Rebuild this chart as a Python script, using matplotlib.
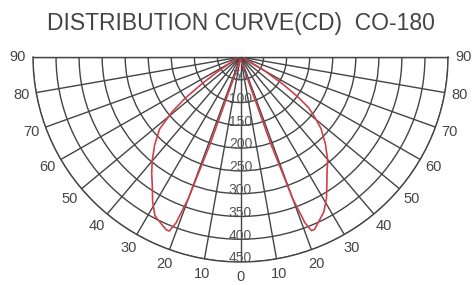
import numpy as np
import matplotlib
matplotlib.use("Agg")
import matplotlib.pyplot as plt

title = "DISTRIBUTION CURVE(CD)  CO-180"
r_ticks = [50, 100, 150, 200, 250, 300, 350, 400, 450]
r_tick_labels = ["50", "100", "150", "200", "250", "300", "350", "400", "450"]
theta_ticks_deg = list(range(-90, 91, 10))
theta_tick_labels = [str(abs(t)) for t in theta_ticks_deg]

# candela curve, angle (deg, negative = left, 0 = straight down) vs intensity (cd)
angles_deg = [-90, -80, -70, -60, -57, -55, -53, -51, -48, -44, -40, -37, -34, -31,
              -28, -25, -23, -22, -21, -20, -19, -18, -15, -10, -5, 0,
              5, 10, 15, 18, 19, 20, 21, 22, 23, 25, 28, 31, 34, 37, 40,
              44, 48, 51, 53, 55, 57, 60, 70, 80, 90]
intensity_cd = [0, 3, 8, 25, 60, 100, 150, 190, 236, 268, 298, 320, 342, 370,
                395, 405, 412, 412, 390, 330, 200, 60, 20, 10, 8, 5,
                8, 10, 20, 60, 200, 330, 390, 411, 411, 400, 385, 362, 335, 312, 294,
                265, 235, 205, 185, 150, 110, 60, 8, 3, 0]

plt.rcParams['font.family'] = ['Liberation Sans', 'DejaVu Sans']

W, H = 475.0, 285.0
cx, cy = 240.5, 57.0       # circle centre in pixels (from top-left)
Rx, Ry = 207.5, 205.0      # horizontal / vertical radius in pixels
# polar wedge bbox is forced square by matplotlib; half circle sits in its middle
box_w, box_h = 2 * Rx, 2 * Ry
left = (cx - Rx) / W
top_px = cy - 0.25 * box_h
bottom = (H - (top_px + box_h)) / H

fig = plt.figure(figsize=(4.75, 2.85), dpi=100)
ax = fig.add_axes([left, bottom, box_w / W, box_h / H], projection='polar')
ax.set_thetamin(180)
ax.set_thetamax(360)
ax.set_ylim(0, 450)
ax.set_aspect('auto')

def to_theta(a):
    return np.deg2rad(270 + np.asarray(a, dtype=float))

grid_color = '#444444'
ax.set_xticks(to_theta(theta_ticks_deg))
ax.set_xticklabels(theta_tick_labels, fontsize=10.5, color='#444444')
ax.tick_params(axis='x', size=0, pad=4)
ax.set_yticks(r_ticks)
ax.set_yticklabels([])
ax.grid(True, color=grid_color, linewidth=1.0)
for s in ax.spines.values():
    s.set_color(grid_color)
    s.set_linewidth(1.0)

for r, lab in zip(r_ticks, r_tick_labels):
    ax.text(to_theta(0), r - 8, lab, ha='center', va='center', fontsize=10, color='#555555')

ax.plot(to_theta(angles_deg), intensity_cd, color='#d0404c', linewidth=1.2)

fig.text(0.507, 0.9175, title, ha='center', va='center', fontsize=16.5, color='#444444')

fig.savefig('out.png', dpi=100)
